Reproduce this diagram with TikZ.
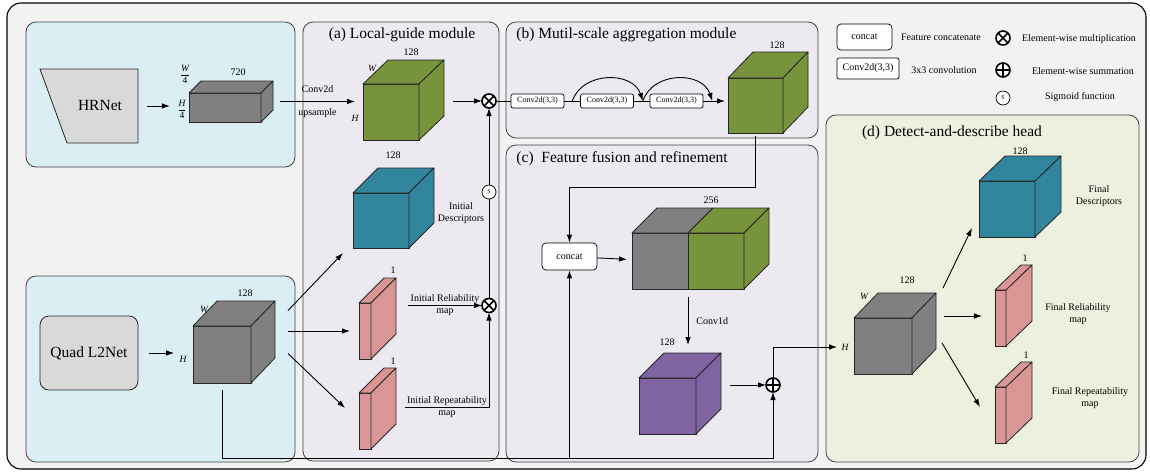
\documentclass[tikz,border=0pt]{standalone}
\usepackage{fontspec}
\setmainfont{Liberation Serif}
\usetikzlibrary{positioning}
\usetikzlibrary{calc}
\usetikzlibrary{arrows.meta}

\definecolor{framegray}{HTML}{F2F2F2}
\definecolor{panelblue}{HTML}{DBEEF3}
\definecolor{panelpurple}{HTML}{ECE9F1}
\definecolor{panelgreen}{HTML}{EBF1DE}
\definecolor{boxgray}{HTML}{D9D9D9}
\definecolor{cubegray}{HTML}{808080}
\definecolor{cubegreen}{HTML}{77933C}
\definecolor{cubeteal}{HTML}{31859C}
\definecolor{cubepink}{HTML}{D99694}
\definecolor{cubepurple}{HTML}{8064A2}

\tikzset{
  panel/.style={draw=black!75, line width=0.8pt, rounded corners=10pt},
  cube/.style={draw=black!85, line width=0.8pt, inner sep=0pt, outer sep=0pt},
  cubeedge/.style={draw=black!85, line width=0.8pt, line join=round},
  lbl/.style={font=\fontsize{10}{12}\selectfont, align=center, inner sep=1pt},
  ttl/.style={font=\fontsize{15.5}{18}\selectfont, inner sep=0pt},
  bigtxt/.style={font=\fontsize{15.5}{18}\selectfont, inner sep=0pt},
  dimtxt/.style={font=\fontsize{9.5}{11}\selectfont\itshape, inner sep=0pt},
  fractxt/.style={font=\fontsize{9.5}{11}\selectfont, inner sep=0pt},
  convbox/.style={draw, fill=white, rounded corners=2pt, line width=0.7pt, minimum width=53pt, minimum height=14pt, inner sep=0pt, font=\fontsize{8}{9}\selectfont},
  catbox/.style={draw, fill=white, rounded corners=4pt, line width=0.7pt, minimum width=55pt, minimum height=26pt, lbl},
  netbox/.style={draw=black!85, fill=boxgray, line width=0.8pt},
  mulop/.style={draw, circle, line width=1.6pt, minimum size=14pt, inner sep=0pt, outer sep=0pt, fill=white},
  sigop/.style={draw, circle, line width=0.7pt, fill=white, minimum size=14pt, inner sep=0pt, font=\fontsize{6}{7}\selectfont},
}

% top and side faces of a block, drawn on the front face node
\newcommand{\cubetop}[4]{\draw[cubeedge, fill=#2] (#1.north west) -- ++(#3,-#4) -- ($(#1.north east)+(#3,-#4)$) -- (#1.north east) -- cycle;}
\newcommand{\cubeside}[4]{\draw[cubeedge, fill=#2] (#1.north east) -- ++(#3,-#4) -- ($(#1.south east)+(#3,-#4)$) -- (#1.south east) -- cycle;}
\newcommand{\cubefaces}[4]{\cubetop{#1}{#2}{#3}{#4}\cubeside{#1}{#2}{#3}{#4}}
\newcommand{\crossop}[1]{\draw[line width=1.6pt] (#1.north west) -- (#1.south east) (#1.north east) -- (#1.south west);}
\newcommand{\plusop}[1]{\draw[line width=1.6pt] (#1.north) -- (#1.south) (#1.west) -- (#1.east);}

\begin{document}
\begin{tikzpicture}[x=1pt, y=-1pt, >={Latex[length=8pt,width=5.5pt]}, line width=0.9pt]
    \useasboundingbox (0,0) rectangle (1150,472);

    % the frame and the panels
    \draw[fill=framegray, line width=1.1pt, rounded corners=14pt] (7,3) rectangle (1146,469);
    \draw[panel, fill=panelblue] (26,22) rectangle (295,167);
    \draw[panel, fill=panelblue] (26,276) rectangle (295,462);
    \draw[panel, fill=panelpurple] (303,22) rectangle (499,461);
    \draw[panel, fill=panelpurple] (506,22) rectangle (818,138);
    \draw[panel, fill=panelpurple] (506,145) rectangle (818,462);
    \draw[panel, fill=panelgreen] (826,115) rectangle (1139,462);

    \node[ttl] (ttlA) at (402,35) {(a) Local-guide module};
    \node[ttl, anchor=west] (ttlB) at (516,35) {(b) Mutil-scale aggregation module};
    \node[ttl, anchor=west] (ttlC) at (516,159) {(c)\ \ Feature fusion and refinement};
    \node[ttl] (ttlD) at (952,133) {(d) Detect-and-describe head};

    % the legend
    \node[catbox] (legCat) at (864.5,37) {concat};
    \node[lbl] (legCatTxt) at (941,37) {Feature concatenate};
    \node[draw, fill=white, rounded corners=2pt, line width=0.7pt, minimum width=62pt, minimum height=21pt, lbl] (legConv) at (868,68.5) {Conv2d(3,3)};
    \node[lbl] (legConvTxt) at (944,70) {3x3 convolution};
    \node[mulop] (legMul) at (1003,38) {}; \crossop{legMul}
    \node[lbl] (legMulTxt) at (1079,39) {Element-wise multiplication};
    \node[mulop] (legAdd) at (1003,70) {}; \plusop{legAdd}
    \node[lbl] (legAddTxt) at (1083,71) {Element-wise summation};
    \node[sigop] (legSig) at (1003,98) {S};
    \node[lbl] (legSigTxt) at (1080,97) {Sigmoid function};

    % backbones
    \node[minimum width=98pt, minimum height=74pt, inner sep=0pt, outer sep=0pt] (hrnet) at (89,106) {};
    \draw[netbox] (hrnet.north west) -- (hrnet.north east) -- (hrnet.south east) -- ([xshift=27pt]hrnet.south west) -- cycle;
    \node[bigtxt] (hrnetTxt) at ([xshift=11pt,yshift=1pt]hrnet.center) {HRNet};
    \node[cube, fill=cubegray, minimum width=72pt, minimum height=29pt] (flat) at (225,107.5) {};
    \cubefaces{flat}{cubegray}{12}{12}
    \node[fractxt] (flatW) at (185,74.5) {$\displaystyle\frac{\mbox{\itshape W}}{\mbox{4}}$};
    \node[fractxt] (flatH) at (182,109) {$\displaystyle\frac{\mbox{\itshape H}}{\mbox{4}}$};
    \node[lbl] (flatN) at (238,72) {720};
    \draw[->, shorten <=9pt, shorten >=7pt] (hrnet.east) -- (hrnet.east -| flatH.west);

    \node[netbox, rounded corners=9pt, minimum width=98pt, minimum height=74pt, bigtxt] (qnet) at (89,353) {Quad L2Net};
    \node[cube, fill=cubegray, minimum width=58pt, minimum height=57pt] (gQ) at (222,354.5) {};
    \cubefaces{gQ}{cubegray}{24}{25}
    \node[lbl] (gQn) at (245,293) {128};
    \node[dimtxt] (gQw) at (204,309) {W};
    \node[dimtxt] (gQh) at (183,359) {H};
    \draw[->, shorten <=11pt, shorten >=5pt] (qnet.east) -- (qnet.east -| gQh.west);

    % (a) local guide
    \node[cube, fill=cubegreen, minimum width=56pt, minimum height=56pt] (gA) at (391,112) {};
    \cubefaces{gA}{cubegreen}{25}{24}
    \node[lbl] (gAn) at (411,52) {128};
    \node[dimtxt] (gAw) at (372,68) {W};
    \node[dimtxt] (gAh) at (355,118) {H};
    \draw[->] ([xshift=19pt,yshift=6pt]flat.east) -- ++(75,0) node[lbl, midway, above=7pt] (upTop) {Conv2d} node[lbl, midway, below=6pt] (upBot) {upsample};

    \node[mulop] (mulA) at (489,101) {}; \crossop{mulA}
    \draw[->] ([xshift=-29pt]mulA.west) -- (mulA);

    \node[cube, fill=cubeteal, minimum width=56pt, minimum height=55pt] (tA) at (381,220.5) {};
    \cubefaces{tA}{cubeteal}{25}{25}
    \node[lbl] (tAn) at (393,155) {128};
    \node[lbl] (tAtxt) at (461,213) {Initial\\Descriptors};

    \node[sigop] (sig) at (489,192) {S};

    \node[cube, fill=cubepink, minimum width=12pt, minimum height=56pt] (r1) at (365,331) {};
    \cubefaces{r1}{cubepink}{25}{25}
    \node[lbl] (r1n) at (393,270) {1};
    \node[cube, fill=cubepink, minimum width=12pt, minimum height=56pt] (r2) at (365,421) {};
    \cubefaces{r2}{cubepink}{25}{25}
    \node[lbl] (r2n) at (393,361) {1};

    \node[mulop] (mulB) at (489,305.5) {}; \crossop{mulB}
    \draw[->] ([xshift=-74pt]mulB.west) -- (mulB) node[lbl, midway] (r1txt) {Initial Reliability\\map};
    \draw[->] ([xshift=34pt,yshift=14pt]r2.east) -| (mulB) node[lbl, pos=0.25] (r2txt) {Initial Repeatability\\map};
    \draw (mulB) -- (sig);
    \draw[->] (sig) -- (mulA);

    \draw[->] ([xshift=37pt,yshift=44pt]gQ.east) -- ([xshift=-10pt,yshift=-5pt]tA.south west);
    \draw[->] ([xshift=37pt,yshift=23.5pt]gQ.east) -- ([xshift=-9pt]r1.west);
    \draw[->] ([xshift=37pt,yshift=1pt]gQ.east) -- ([xshift=-14pt,yshift=13pt]r2.west);

    % (b) multi-scale aggregation
    \node[convbox] (c1) at (537.5,101) {Conv2d(3,3)};
    \node[convbox] (c2) at (607,101) {Conv2d(3,3)};
    \node[convbox] (c3) at (676.5,101) {Conv2d(3,3)};
    \node[cube, fill=cubegreen, minimum width=55pt, minimum height=55pt] (gB) at (755.5,105.5) {};
    \cubefaces{gB}{cubegreen}{25}{26}
    \node[lbl] (gBn) at (777,45) {128};
    \draw (mulA) -- (c1);
    \draw (c1) -- (c2);
    \draw (c2) -- (c3);
    \draw[->, shorten >=3pt] (c3) -- (c3 -| gB.west);
    \draw[->] ([xshift=8pt]c1.east) .. controls +(10,-30) and +(-10,-30) .. ([xshift=9pt]c2.east);
    \draw[->] ([xshift=9pt]c2.east) .. controls +(10,-30) and +(-10,-30) .. ([xshift=9pt]c3.east);

    % (c) fusion and refinement
    \node[catbox, minimum height=27pt] (concat) at (569.5,256.5) {concat};
    \node[cube, fill=cubegray, minimum width=56pt, minimum height=56pt] (cGray) at (660,261) {};
    \node[cube, fill=cubegreen, minimum width=56pt, minimum height=56pt, right=0pt of cGray] (cGreen) {};
    \cubetop{cGray}{cubegray}{25}{25}
    \cubefaces{cGreen}{cubegreen}{25}{25}
    \node[lbl] (catN) at (711,200) {256};
    \draw[->, shorten >=5pt] (concat) -- (cGray);
    \draw[->] ([yshift=-3pt]gB.south) |- ($(concat.north)+(0,-55)$) -- (concat.north);
    \draw[->] ([yshift=-8pt]cGray.south east) -- ++(0,48) node[lbl, midway, right=7pt] (conv1) {Conv1d};

    \node[cube, fill=cubepurple, minimum width=57pt, minimum height=56pt] (pur) at (667.5,406) {};
    \cubefaces{pur}{cubepurple}{25}{25}
    \node[lbl] (purN) at (667,342) {128};

    \node[mulop] (add) at (773,385) {}; \plusop{add}
    \draw[->] ([xshift=-36pt]add.west) -- (add);

    \coordinate (busEnd) at (773,458);
    \draw[->] ([yshift=-7pt]gQ.south) |- (busEnd) -- (add);
    \draw[->] (concat |- busEnd) -- (concat);

    % (d) detect and describe
    \node[cube, fill=cubegray, minimum width=58pt, minimum height=56pt] (gD) at (883,346) {};
    \cubefaces{gD}{cubegray}{24}{25}
    \node[lbl] (gDn) at (907,280) {128};
    \node[dimtxt] (gDw) at (864,296) {W};
    \node[dimtxt] (gDh) at (845,347) {H};
    \draw[->, shorten >=4pt] (add) |- (gDh);

    \node[cube, fill=cubeteal, minimum width=56pt, minimum height=56pt] (tD) at (1007,209) {};
    \cubefaces{tD}{cubeteal}{26}{25}
    \node[lbl] (tDn) at (1020,151) {128};
    \node[lbl] (tDtxt) at (1099,196) {Final\\Descriptors};

    \node[cube, fill=cubepink, minimum width=11pt, minimum height=56pt] (f1) at (1000.5,318) {};
    \cubefaces{f1}{cubepink}{26}{25}
    \node[lbl] (f1n) at (1025,258) {1};
    \node[lbl] (f1txt) at (1078,314) {Final Reliability\\map};

    \node[cube, fill=cubepink, minimum width=11pt, minimum height=56pt] (f2) at (1000.5,415) {};
    \cubefaces{f2}{cubepink}{26}{25}
    \node[lbl] (f2n) at (1026,355) {1};
    \node[lbl] (f2txt) at (1090,398) {Final Repeatability\\map};

    \draw[->] ([xshift=31pt,yshift=58pt]gD.east) -- ([xshift=-7pt,yshift=9pt]tD.south west);
    \draw[->] ([xshift=32pt,yshift=30pt]gD.east) -- ([xshift=-13pt,yshift=2pt]f1.west);
    \draw[->] ([xshift=30pt,yshift=3pt]gD.east) -- ([xshift=-15pt,yshift=8pt]f2.west);
\end{tikzpicture}
\end{document}
